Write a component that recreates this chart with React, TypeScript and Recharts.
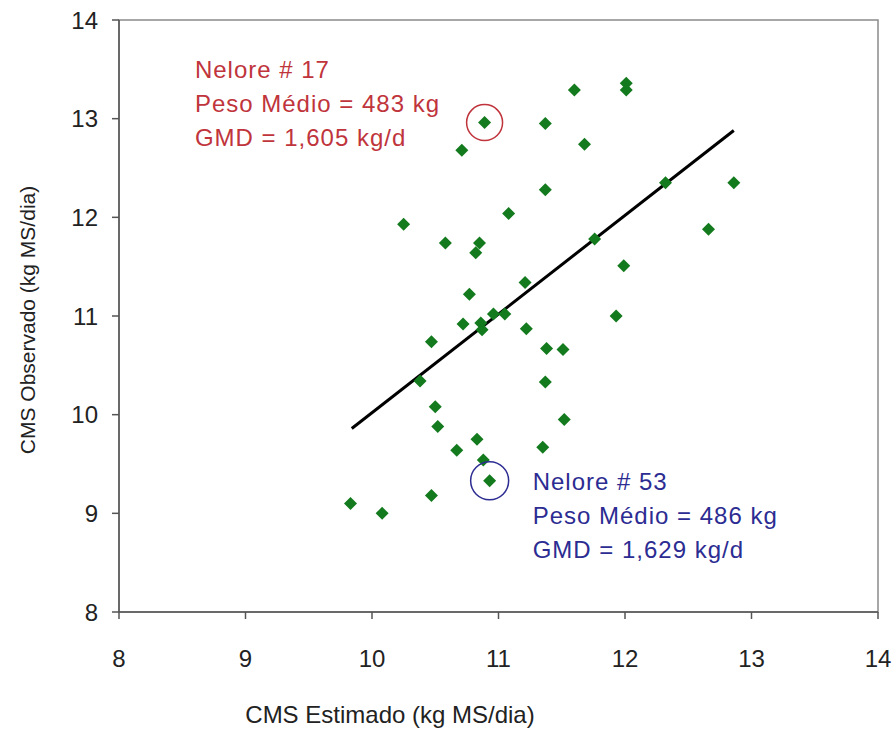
import React from 'react';
import {
  ScatterChart, Scatter, XAxis, YAxis, ReferenceLine, ReferenceDot, ReferenceArea,
} from 'recharts';

// CMS estimado (x) vs CMS observado (y), kg MS/dia
const estimado = [
  9.83, 10.08, 10.47, 10.93, 10.88, 10.83, 10.67, 10.52, 10.50, 10.38,
  11.35, 11.52, 11.37, 11.38, 11.51, 11.22, 10.72, 10.86, 10.87, 10.47,
  10.96, 11.05, 11.93, 11.60, 12.01, 12.01, 10.89, 11.37, 11.68, 10.71,
  11.37, 11.08, 10.25, 10.58, 10.85, 10.82, 11.76, 11.99, 11.21, 10.77,
  12.32, 12.86, 12.66,
];
const observado = [
  9.10, 9.00, 9.18, 9.33, 9.54, 9.75, 9.64, 9.88, 10.08, 10.34,
  9.67, 9.95, 10.33, 10.67, 10.66, 10.87, 10.92, 10.93, 10.86, 10.74,
  11.02, 11.02, 11.00, 13.29, 13.36, 13.29, 12.96, 12.95, 12.74, 12.68,
  12.28, 12.04, 11.93, 11.74, 11.74, 11.64, 11.78, 11.51, 11.34, 11.22,
  12.35, 12.35, 11.88,
];
const ticks = [8, 9, 10, 11, 12, 13, 14];

// regression line end points
const trendX = [9.84, 12.86];
const trendY = [9.86, 12.88];

// highlighted animals
const nelore17 = { x: 10.89, y: 12.96, lines: ['Nelore # 17', 'Peso Médio = 483 kg', 'GMD = 1,605 kg/d'] };
const nelore53 = { x: 10.93, y: 9.33, lines: ['Nelore # 53', 'Peso Médio = 486 kg', 'GMD = 1,629 kg/d'] };

const points = estimado.map((x, i) => ({ x, y: observado[i] }));

const FONT = '"Liberation Sans", Arial, sans-serif';
const GREEN = '#137a1e';
const RED = '#c0343c';
const BLUE = '#2c2c92';

const Diamond = (props: any) => {
  const { cx, cy } = props;
  const r = 6.5;
  return (
    <polygon
      points={`${cx},${cy - r} ${cx + r},${cy} ${cx},${cy + r} ${cx - r},${cy}`}
      fill={GREEN}
    />
  );
};

const noteShape = (lines: string[], color: string) => (props: any) => {
  const { cx, cy } = props;
  return (
    <text x={cx} y={cy} fill={color} fontFamily={FONT} fontSize={24} letterSpacing={1}>
      {lines.map((l, i) => (
        <tspan key={i} x={cx} dy={i === 0 ? 0 : 34}>{l}</tspan>
      ))}
    </text>
  );
};

const XTitle = (props: any) => {
  const vb = props.viewBox || {};
  return (
    <text x={390} y={vb.y + vb.height - 6} textAnchor="middle" fontFamily={FONT}
      fontSize={24} fill="#222">
      CMS Estimado (kg MS/dia)
    </text>
  );
};

const YTitle = (props: any) => {
  const vb = props.viewBox || {};
  const cx = 27;
  const cy = vb.y + vb.height / 2 + 4;
  return (
    <text x={cx} y={cy} transform={`rotate(-90 ${cx} ${cy})`} textAnchor="middle"
      dominantBaseline="central" fontFamily={FONT} fontSize={21} fill="#222">
      CMS Observado (kg MS/dia)
    </text>
  );
};

export default function App() {
  return (
    <div style={{ position: 'absolute', left: 0, top: 0, background: '#fff' }}>
      <ScatterChart width={896} height={729} margin={{ top: 20, right: 18, bottom: 0, left: 0 }}>
        <ReferenceArea x1={8} x2={14} y1={8} y2={14} fill="none" stroke="#8a8a8a" strokeWidth={1.5} />
        <XAxis
          type="number" dataKey="x" domain={[8, 14]} ticks={ticks} height={117}
          tickSize={7} tickMargin={31} stroke="#555" strokeWidth={1.5}
          tick={{ fill: '#222', fontSize: 24, fontFamily: FONT }}
          label={XTitle}
        />
        <YAxis
          type="number" dataKey="y" domain={[8, 14]} ticks={ticks} width={119}
          tickSize={7} tickMargin={14} stroke="#555" strokeWidth={1.5}
          tick={{ fill: '#222', fontSize: 24, fontFamily: FONT }}
          label={YTitle}
        />
        <ReferenceLine
          segment={[{ x: trendX[0], y: trendY[0] }, { x: trendX[1], y: trendY[1] }]}
          stroke="#000" strokeWidth={3}
        />
        <Scatter data={points} shape={Diamond} isAnimationActive={false} />
        <ReferenceDot x={nelore17.x} y={nelore17.y} r={18} fill="none" stroke={RED} strokeWidth={1.5} />
        <ReferenceDot x={nelore53.x} y={nelore53.y} r={19} fill="none" stroke={BLUE} strokeWidth={1.5} />
        <ReferenceDot x={8.6} y={13.41} r={0} shape={noteShape(nelore17.lines, RED)} />
        <ReferenceDot x={11.27} y={9.24} r={0} shape={noteShape(nelore53.lines, BLUE)} />
      </ScatterChart>
    </div>
  );
}
